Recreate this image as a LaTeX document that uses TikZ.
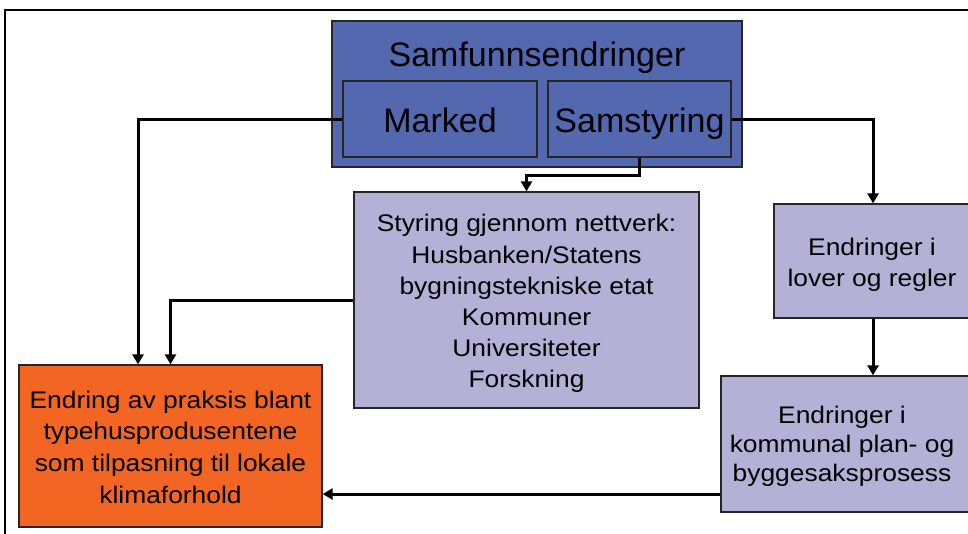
\documentclass[tikz,border=0pt]{standalone}
\usepackage{fontspec}
\setmainfont{Liberation Sans}[FakeStretch=1.1]
\newfontfamily\bigfont{Liberation Sans}
\usetikzlibrary{arrows.meta,calc}
\definecolor{samblue}{RGB}{84,104,176}
\definecolor{lilac}{RGB}{180,176,214}
\definecolor{orangebox}{RGB}{242,101,34}
\tikzset{
  box/.style={draw=black!85, line width=1.3pt, inner sep=0pt, align=center, text=black},
  bluebox/.style={box, fill=samblue, font=\bigfont\fontsize{34}{40}\selectfont},
  lilacbox/.style={box, fill=lilac},
  orbox/.style={box, fill=orangebox},
  txt/.style={inner sep=0pt, align=center, text=black},
  arr/.style={line width=3pt, -{Triangle[width=11pt,length=10pt]}},
  frameline/.style={line width=1.6pt}
}
\begin{document}
\begin{tikzpicture}[x=1pt,y=-1pt]
\useasboundingbox (0,0) rectangle (968,533);
\clip (0,0) rectangle (968,533);
\fill[white] (0,0) rectangle (968,533);
\draw[frameline] (5,540) -- (5,10) -- (975,10);

\node[bluebox, minimum width=410pt, minimum height=146pt] (sam) at (537,94) {};
\node[txt, anchor=base, font=\bigfont\fontsize{34}{40}\selectfont] (samlbl) at (537,66) {Samfunnsendringer};
\node[bluebox, minimum width=194pt, minimum height=76pt, text height=26pt, text depth=0pt] (marked) at (440,119) {Marked};
\node[bluebox, minimum width=183pt, minimum height=76pt, text height=26pt, text depth=0pt] (samstyr) at (639.5,119) {Samstyring};

\node[lilacbox, minimum width=345pt, minimum height=216pt] (styring) at (526.5,300) {};
\node[txt, font=\fontsize{24}{31.2}\selectfont] (styringtxt) at ([yshift=-3.7pt]styring.center)
  {Styring gjennom nettverk:\\Husbanken/Statens\\bygningstekniske etat\\Kommuner\\Universiteter\\Forskning};

\node[lilacbox, minimum width=198pt, minimum height=114pt] (lover) at (873,261) {};
\node[txt, font=\fontsize{24}{31}\selectfont] (lovertxt) at ([xshift=-1pt,yshift=-3.4pt]lover.center)
  {Endringer i\\lover og regler};

\node[lilacbox, minimum width=251pt, minimum height=136pt] (kommunal) at (846.5,444) {};
\node[txt, font=\fontsize{24}{29}\selectfont] (kommunaltxt) at ([xshift=-4.5pt,yshift=-2.3pt]kommunal.center)
  {Endringer i\\kommunal plan- og\\byggesaksprosess};

\node[orbox, minimum width=303pt, minimum height=162pt] (orange) at (170.5,446) {};
\node[txt, font=\fontsize{24}{31.7}\selectfont] (orangetxt) at ([yshift=-1pt]orange.center)
  {Endring av praksis blant\\typehusprodusentene\\som tilpasning til lokale\\klimaforhold};

\draw[arr] (marked.west) -| ([xshift=-32.5pt]orange.north);
\draw[arr] (styring.west) -| (orange.north);
\draw[arr] (samstyr.south) -- ++(0,18) -| (styring.north);
\draw[arr] (samstyr.east) -| (lover.north);
\draw[arr] (lover.south) -- (lover.south |- kommunal.north);
\draw[arr] ([yshift=-50pt]kommunal.west) coordinate (k) -- (k -| orange.east);
\end{tikzpicture}
\end{document}
